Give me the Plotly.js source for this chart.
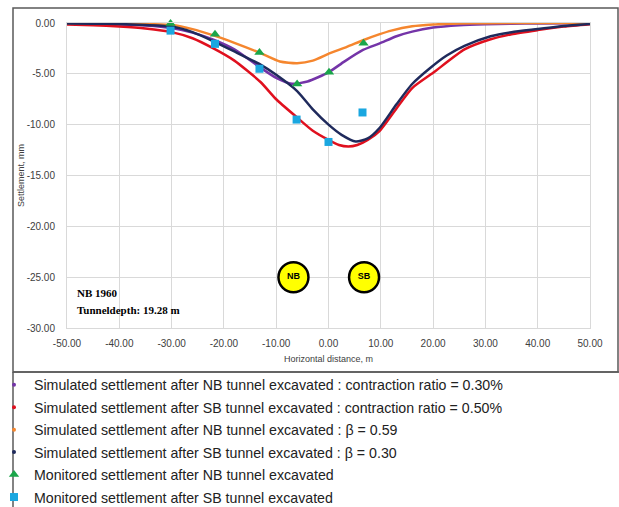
<!DOCTYPE html>
<html>
<head>
<meta charset="utf-8">
<script src="https://cdn.plot.ly/plotly-3.0.1.min.js"></script>
<style>html,body{margin:0;padding:0;background:#fff}#chart{width:619px;height:507px}</style>
</head>
<body>
<div id="chart"></div>
<script>
// Simulated curves
const nbRatioX = [-50,-45,-40,-35,-30,-26,-22,-18,-13,-10,-7,-4,0,3,6.6,9.8,13,16,20,25,30,35,40,50];
const nbRatioY = [-0.05,-0.08,-0.15,-0.25,-0.5,-0.95,-1.65,-2.6,-4.4,-5.4,-5.98,-5.75,-4.85,-3.8,-2.65,-2.0,-1.3,-0.85,-0.45,-0.22,-0.12,-0.07,-0.04,-0.02];

const sbRatioX = [-50,-45,-40,-35,-30,-26,-22,-18,-13,-10,-6,-3,0,2,3.8,5.5,7.5,9.8,13,16,20,26,31,35,40,45,50];
const sbRatioY = [-0.15,-0.22,-0.35,-0.55,-0.9,-1.5,-2.5,-3.7,-5.8,-7.5,-9.3,-10.6,-11.5,-12.0,-12.15,-12.0,-11.5,-10.6,-8.4,-6.4,-4.9,-2.6,-1.6,-1.1,-0.7,-0.35,-0.12];

const nbBetaX = [-50,-45,-40,-35,-30,-26,-22,-18,-13,-9.3,-6,-3,0.3,3.5,6.6,9.8,12,16,20,25,30,40,50];
const nbBetaY = [-0.02,-0.03,-0.05,-0.1,-0.2,-0.6,-1.22,-1.95,-2.96,-3.78,-3.95,-3.7,-2.96,-2.35,-1.7,-1.1,-0.75,-0.33,-0.15,-0.05,-0.02,0,0];

const sbBetaX = [-50,-45,-40,-35,-30,-26,-22,-18,-13,-10,-6,-3,0,2.5,5.2,7.5,9.8,13,16,19.5,22.6,26,31,35,40,45,50];
const sbBetaY = [-0.05,-0.07,-0.1,-0.2,-0.35,-0.9,-1.8,-2.8,-4.1,-5.1,-6.7,-8.5,-10.0,-11.0,-11.65,-11.35,-10.3,-8.0,-6.0,-4.4,-3.2,-2.25,-1.3,-0.9,-0.6,-0.3,-0.1];

// Monitored points
const monNBX = [-30.2,-21.7,-13.2,-6.0,0.1,6.7];
const monNBY = [-0.05,-1.1,-2.9,-6.0,-4.85,-2.0];
const monSBX = [-30.2,-21.7,-13.2,-6.1,0.0,6.5];
const monSBY = [-0.75,-2.05,-4.5,-9.5,-11.7,-8.8];

// Tunnel markers
const tunnelX = [-6.7, 6.8];
const tunnelY = [-25, -25];
const tunnelLabels = ["NB", "SB"];

// Series names
const names = [
  "Simulated settlement after NB tunnel excavated : contraction ratio = 0.30%",
  "Simulated settlement after SB tunnel excavated : contraction ratio = 0.50%",
  "Simulated settlement after NB tunnel excavated : β = 0.59",
  "Simulated settlement after SB tunnel excavated : β = 0.30",
  "Monitored settlement after NB tunnel excavated",
  "Monitored settlement after SB tunnel excavated"
];

// Tick labels
const xTickVals = [-50,-40,-30,-20,-10,0,10,20,30,40,50];
const xTickText = ["-50.00","-40.00","-30.00","-20.00","-10.00","0.00","10.00","20.00","30.00","40.00","50.00"];
const yTickVals = [0,-5,-10,-15,-20,-25,-30];
const yTickText = ["0.00","-5.00","-10.00","-15.00","-20.00","-25.00","-30.00"];

const cPurple = "#7434a8", cRed = "#e0101e", cOrange = "#f5862e", cNavy = "#1f2a5c";
const cGreen = "#1aa64a", cBlue = "#1aa7e0";

function curve(x, y, color, grp) {
  return {x: x, y: y, type: "scatter", mode: "lines", line: {color: color, width: 2.5, shape: "spline", smoothing: 0.6},
          showlegend: false, legendgroup: grp, hoverinfo: "skip"};
}
function legendDot(name, color, grp) {
  return {x: [null], y: [null], type: "scatter", mode: "markers", name: name,
          marker: {color: color, size: 4}, legendgroup: grp};
}

const traces = [
  curve(nbRatioX, nbRatioY, cPurple, "g1"),
  curve(sbRatioX, sbRatioY, cRed, "g2"),
  curve(nbBetaX, nbBetaY, cOrange, "g3"),
  curve(sbBetaX, sbBetaY, cNavy, "g4"),
  legendDot(names[0], cPurple, "g1"),
  legendDot(names[1], cRed, "g2"),
  legendDot(names[2], cOrange, "g3"),
  legendDot(names[3], cNavy, "g4"),
  {x: monNBX, y: monNBY, type: "scatter", mode: "markers", name: names[4], legendgroup: "g5",
   marker: {symbol: "triangle-up", size: 9, color: cGreen}, cliponaxis: false},
  {x: monSBX, y: monSBY, type: "scatter", mode: "markers", name: names[5], legendgroup: "g6",
   marker: {symbol: "square", size: 8, color: cBlue}, cliponaxis: false},
  {x: tunnelX, y: tunnelY, type: "scatter", mode: "markers+text", text: tunnelLabels, showlegend: false,
   textposition: "middle center", textfont: {family: "Liberation Sans", size: 9, color: "#000", weight: "bold"},
   marker: {size: 30, color: "#ffff00", line: {color: "#000", width: 2.5}}, hoverinfo: "skip"}
];

const px = (v) => (v - 67) / 523;
const py = (v) => (328 - v) / 305;

const layout = {
  width: 619, height: 507,
  margin: {l: 67, r: 29, t: 23, b: 179, autoexpand: false},
  paper_bgcolor: "#fff", plot_bgcolor: "#fff",
  font: {family: "Liberation Sans, Arial, sans-serif", color: "#404040"},
  xaxis: {range: [-50, 50], tickvals: xTickVals, ticktext: xTickText, showgrid: true, gridcolor: "#d9d9d9",
          showline: true, linecolor: "#d9d9d9", mirror: true, zeroline: false,
          ticks: "outside", ticklen: 6, tickcolor: "rgba(0,0,0,0)", automargin: false,
          tickfont: {size: 10, color: "#404040"},
          title: {text: "Horizontal distance, m", font: {size: 9, color: "#404040"}, standoff: 7}},
  yaxis: {range: [-30, 0], tickvals: yTickVals, ticktext: yTickText, showgrid: true, gridcolor: "#d9d9d9",
          showline: true, linecolor: "#d9d9d9", mirror: true, zeroline: false,
          ticks: "outside", ticklen: 9, tickcolor: "rgba(0,0,0,0)", automargin: false,
          tickfont: {size: 10, color: "#404040"},
          title: {text: "Settlement, mm", font: {size: 9, color: "#404040"}, standoff: 0}},
  showlegend: true,
  legend: {x: px(-6), y: py(369), xanchor: "left", yanchor: "top", orientation: "v",
           traceorder: "grouped", tracegroupgap: 1, itemwidth: 30,
           font: {family: "Liberation Sans, Arial, sans-serif", size: 14.2, color: "#222"},
           bgcolor: "rgba(0,0,0,0)"},
  annotations: [
    {x: -48.4, y: -26.6, xref: "x", yref: "y", xanchor: "left", yanchor: "middle", showarrow: false,
     text: "<b>NB 1960</b>", font: {family: "Liberation Serif, Times New Roman, serif", size: 11, color: "#000"}},
    {x: -48.4, y: -28.25, xref: "x", yref: "y", xanchor: "left", yanchor: "middle", showarrow: false,
     text: "<b>Tunneldepth: 19.28 m</b>", font: {family: "Liberation Serif, Times New Roman, serif", size: 11, color: "#000"}}
  ],
  shapes: [
    {type: "rect", xref: "paper", yref: "paper", x0: px(13), x1: px(618), y0: py(372), y1: py(8),
     line: {color: "#5a5a5a", width: 1.5}, fillcolor: "rgba(0,0,0,0)", layer: "below"},
    {type: "line", xref: "paper", yref: "paper", x0: px(13), x1: px(13), y0: py(372), y1: py(510),
     line: {color: "#5a5a5a", width: 1.5}},
    {type: "line", xref: "paper", yref: "paper", x0: px(13), x1: px(620), y0: py(372), y1: py(372),
     line: {color: "#5a5a5a", width: 1.5}}
  ]
};

Plotly.newPlot("chart", traces, layout, {displayModeBar: false, staticPlot: true});
</script>
</body>
</html>
